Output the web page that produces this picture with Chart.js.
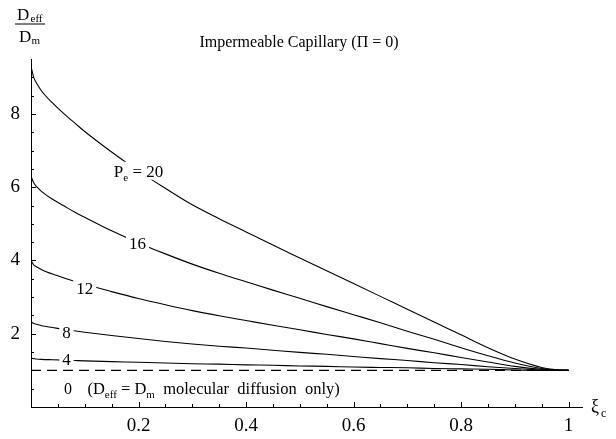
<!DOCTYPE html>
<html><head><meta charset="utf-8">
<script src="https://cdn.jsdelivr.net/npm/chart.js@4/dist/chart.umd.min.js"></script>
<style>html,body{margin:0;padding:0;background:#fff}#wrap{width:616px;height:439px;position:relative}</style>
</head><body><div id="wrap"><canvas id="c" width="616" height="439"></canvas></div>
<script>
// ---- data ----
const xi   = [0, 0.005, 0.01, 0.02, 0.04, 0.06, 0.08, 0.1, 0.15, 0.2, 0.25, 0.3, 0.35, 0.4, 0.45, 0.5, 0.55, 0.6, 0.65, 0.7, 0.75, 0.8, 0.85, 0.9, 0.95, 0.975, 1.0];
const pe20 = [9.30, 9.00, 8.85, 8.62, 8.30, 8.02, 7.77, 7.52, 6.96, 6.44, 5.97, 5.52, 5.14, 4.78, 4.42, 4.07, 3.72, 3.37, 3.02, 2.67, 2.32, 1.97, 1.62, 1.31, 1.08, 1.02, 1.0];
const pe16 = [6.30, 6.12, 6.02, 5.88, 5.67, 5.50, 5.33, 5.18, 4.81, 4.48, 4.18, 3.90, 3.65, 3.42, 3.19, 2.97, 2.74, 2.52, 2.30, 2.07, 1.85, 1.62, 1.40, 1.20, 1.05, 1.01, 1.0];
const pe12 = [4.00, 3.88, 3.83, 3.75, 3.63, 3.53, 3.44, 3.35, 3.15, 2.96, 2.79, 2.63, 2.49, 2.36, 2.23, 2.11, 1.98, 1.86, 1.73, 1.60, 1.48, 1.35, 1.23, 1.11, 1.03, 1.01, 1.0];
const pe8  = [2.33, 2.28, 2.26, 2.22, 2.17, 2.12, 2.08, 2.04, 1.95, 1.87, 1.79, 1.72, 1.66, 1.61, 1.55, 1.49, 1.44, 1.38, 1.32, 1.27, 1.21, 1.16, 1.10, 1.05, 1.01, 1.00, 1.0];
const pe4  = [1.33, 1.32, 1.31, 1.30, 1.29, 1.28, 1.27, 1.26, 1.24, 1.22, 1.20, 1.18, 1.17, 1.15, 1.14, 1.12, 1.11, 1.09, 1.08, 1.07, 1.05, 1.04, 1.03, 1.01, 1.00, 1.00, 1.0];
const pe0x = [0, 1];
const pe0  = [1, 1];
const xTickValues = [0.2, 0.4, 0.6, 0.8, 1];
const yTickValues = [2, 4, 6, 8];
const xMinorTicks = [0.05,0.1,0.15,0.2,0.25,0.3,0.35,0.4,0.45,0.5,0.55,0.6,0.65,0.7,0.75,0.8,0.85,0.9,0.95,1];
const yMinorTicks = [0.5,1,1.5,2,2.5,3,3.5,4,4.5,5,5.5,6,6.5,7,7.5,8,8.5,9];
const titleText = 'Impermeable Capillary (\u03A0 = 0)';

// label anchors (data coordinates)
const curveLabels = [
  {x:0.200, y:6.45, parts:[['P',17,0],['e',11,4],[' = 20',17,0]]},
  {x:0.198, y:4.47, parts:[['16',17,0]]},
  {x:0.100, y:3.26, parts:[['12',17,0]]},
  {x:0.066, y:2.05, parts:[['8',17,0]]},
  {x:0.066, y:1.31, parts:[['4',17,0]]},
  {x:0.069, y:0.52, parts:[['0',16,0]]}
];
const noteLabel = {x:0.105, y:0.52, parts:[['(D',16.5,0],['eff',11,4],[' = D',16.5,0],['m',11,4],['  molecular  diffusion  only)',16.5,0]]};

const SERIF = '"Liberation Serif", "Times New Roman", serif';
const toXY = (xs, ys) => xs.map((v, i) => ({x: v, y: ys[i]}));

function richWidth(ctx, parts){
  let w = 0;
  for (const [t, s] of parts){ ctx.font = s + 'px ' + SERIF; w += ctx.measureText(t).width; }
  return w;
}
function drawRich(ctx, parts, x, y, align, bg){
  const w = richWidth(ctx, parts);
  let sx = align === 'center' ? x - w/2 : x;
  const base = y + 6;
  if (bg){
    ctx.fillStyle = '#fff';
    ctx.fillRect(sx - 3, y - 9, w + 6, 18);
  }
  ctx.fillStyle = '#000';
  ctx.textAlign = 'left';
  ctx.textBaseline = 'alphabetic';
  for (const [t, s, dy] of parts){
    ctx.font = s + 'px ' + SERIF;
    ctx.fillText(t, sx, base + dy);
    sx += ctx.measureText(t).width;
  }
}

const decor = {
  id: 'decor',
  afterDatasetsDraw(chart){
    const ctx = chart.ctx, xs = chart.scales.x, ys = chart.scales.y;
    ctx.save();
    for (const L of curveLabels){
      drawRich(ctx, L.parts, xs.getPixelForValue(L.x), ys.getPixelForValue(L.y), 'center', true);
    }
    drawRich(ctx, noteLabel.parts, xs.getPixelForValue(noteLabel.x), ys.getPixelForValue(noteLabel.y), 'left', true);
    ctx.restore();
  },
  afterDraw(chart){
    const ctx = chart.ctx, xs = chart.scales.x, ys = chart.scales.y;
    const a = chart.chartArea;
    ctx.save();
    ctx.strokeStyle = '#000';
    ctx.lineWidth = 1;
    ctx.beginPath();
    for (const v of xMinorTicks){
      const px = Math.round(xs.getPixelForValue(v)) + 0.5;
      const len = xTickValues.includes(v) ? 5 : 3;
      ctx.moveTo(px, a.bottom); ctx.lineTo(px, a.bottom - len);
    }
    for (const v of yMinorTicks){
      const py = Math.round(ys.getPixelForValue(v)) + 0.5;
      const len = yTickValues.includes(v) ? 5 : 3;
      ctx.moveTo(a.left, py); ctx.lineTo(a.left + len, py);
    }
    ctx.stroke();
    // title
    ctx.fillStyle = '#000';
    ctx.font = '16px ' + SERIF;
    ctx.textAlign = 'center';
    ctx.textBaseline = 'alphabetic';
    ctx.fillText(titleText, 299, 47);
    // y-axis label fraction
    ctx.textAlign = 'left';
    ctx.font = '17px ' + SERIF;
    ctx.fillText('D', 17, 19.5);
    ctx.font = '11px ' + SERIF;
    ctx.fillText('eff', 30.5, 21.5);
    ctx.fillRect(15, 23.5, 30, 1);
    ctx.font = '17px ' + SERIF;
    ctx.fillText('D', 19, 42);
    ctx.font = '11px ' + SERIF;
    ctx.fillText('m', 31.5, 44);
    // x-axis label
    ctx.font = '18px ' + SERIF;
    ctx.fillText('\u03BE', 591, 412);
    ctx.font = '12px ' + SERIF;
    ctx.fillText('c', 601, 417);
    ctx.restore();
  }
};

const lineStyle = {borderColor:'#000', borderWidth:1.1, pointRadius:0, fill:false, cubicInterpolationMode:'monotone'};

new Chart(document.getElementById('c'), {
  type: 'line',
  data: {
    datasets: [
      Object.assign({label:'Pe = 20', data: toXY(xi, pe20)}, lineStyle),
      Object.assign({label:'16', data: toXY(xi, pe16)}, lineStyle),
      Object.assign({label:'12', data: toXY(xi, pe12)}, lineStyle),
      Object.assign({label:'8', data: toXY(xi, pe8)}, lineStyle),
      Object.assign({label:'4', data: toXY(xi, pe4)}, lineStyle),
      Object.assign({label:'0', data: toXY(pe0x, pe0), borderDash:[10,6]}, lineStyle)
    ]
  },
  options: {
    responsive: false,
    animation: false,
    devicePixelRatio: 1,
    layout: {padding: {left: 0, right: 34, top: 59, bottom: 0}},
    plugins: {legend: {display: false}, tooltip: {enabled: false}, title: {display: false}},
    scales: {
      x: {
        type: 'linear', min: 0, max: 1.025,
        grid: {display: false, drawTicks: false},
        border: {display: true, color: '#000', width: 1},
        afterBuildTicks: s => { s.ticks = xTickValues.map(v => ({value: v})); },
        afterFit: s => { s.height = 32; },
        ticks: {color: '#000', padding: 8, maxRotation: 0, autoSkip: false,
                font: {family: SERIF, size: 19}, callback: v => String(v)}
      },
      y: {
        type: 'linear', min: 0, max: 9.5,
        grid: {display: false, drawTicks: false},
        border: {display: true, color: '#000', width: 1},
        afterBuildTicks: s => { s.ticks = yTickValues.map(v => ({value: v})); },
        afterFit: s => { s.width = 31; },
        ticks: {color: '#000', padding: 11, autoSkip: false,
                font: {family: SERIF, size: 19}, callback: v => String(v)}
      }
    }
  },
  plugins: [decor]
});
</script></body></html>
